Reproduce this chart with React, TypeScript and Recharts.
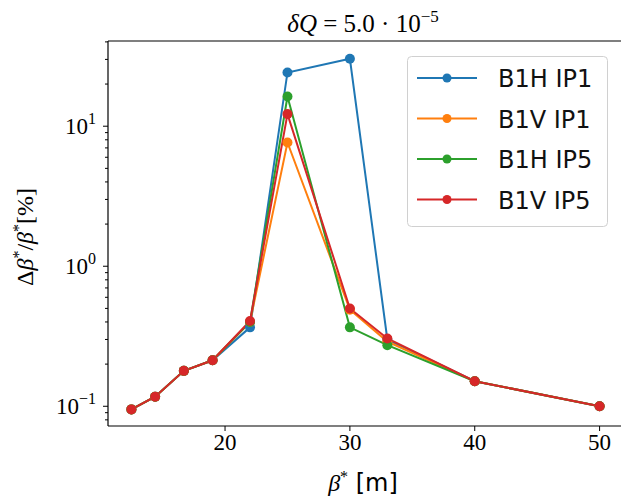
import React from 'react';
import { LineChart, Line, XAxis, YAxis } from 'recharts';

const BETA = [12.5, 14.4, 16.7, 19, 22, 25, 30, 33, 40, 50];
const B1H_IP1 = [0.095, 0.117, 0.179, 0.213, 0.366, 24.2, 30.3, 0.3, 0.151, 0.1];
const B1V_IP1 = [0.095, 0.117, 0.179, 0.213, 0.4, 7.65, 0.49, 0.29, 0.151, 0.1];
const B1H_IP5 = [0.095, 0.117, 0.179, 0.213, 0.4, 16.3, 0.366, 0.273, 0.151, 0.1];
const B1V_IP5 = [0.095, 0.117, 0.179, 0.213, 0.406, 12.2, 0.499, 0.305, 0.151, 0.1];

const SERIES = [
  { key: 'b1hIp1', name: 'B1H IP1', values: B1H_IP1, color: '#1f77b4' },
  { key: 'b1vIp1', name: 'B1V IP1', values: B1V_IP1, color: '#ff7f0e' },
  { key: 'b1hIp5', name: 'B1H IP5', values: B1H_IP5, color: '#2ca02c' },
  { key: 'b1vIp5', name: 'B1V IP5', values: B1V_IP5, color: '#d62728' },
];

const X_TICKS = [20, 30, 40, 50];
const Y_DECADES = [0.01, 0.1, 1, 10];
const Y_MANTISSAS = [1, 2, 3, 4, 5, 6, 7, 8, 9];
const X_DOMAIN = [10.625, 51.875];
const Y_DOMAIN = [0.0723, 40.6];
const DECADE_EXP: Record<string, string> = { '0.1': '−1', '1': '0', '10': '1' };

const data = BETA.map((b, i) => {
  const row: Record<string, number> = { beta: b };
  SERIES.forEach(s => {
    row[s.key] = s.values[i];
  });
  return row;
});

const yTicks = Y_DECADES.flatMap(d => Y_MANTISSAS.map(m => +(d * m).toPrecision(3))).filter(
  v => v >= Y_DOMAIN[0] && v <= Y_DOMAIN[1]
);

const SERIF = '"Liberation Serif", "DejaVu Serif", serif';
const SANS = '"DejaVu Sans", sans-serif';

const YTick = (props: any) => {
  const { x, y, payload } = props;
  const exp = DECADE_EXP[String(payload.value)];
  const major = exp !== undefined;
  return (
    <g>
      <line x1={x} x2={x - (major ? 5 : 3)} y1={y} y2={y} stroke="#000" strokeWidth={1} />
      {major && (
        <text x={x - 12} y={y + 8} textAnchor="end" fontFamily={SERIF} fontSize={23} fill="#000">
          10
          <tspan dy={-10} fontSize={16}>
            {exp}
          </tspan>
        </text>
      )}
    </g>
  );
};

const XTick = (props: any) => {
  const { x, y, payload } = props;
  return (
    <g>
      <line x1={x} x2={x} y1={y} y2={y + 5} stroke="#000" strokeWidth={1} />
      <text x={x} y={y + 24} textAnchor="middle" fontFamily={SERIF} fontSize={23} fill="#000">
        {payload.value}
      </text>
    </g>
  );
};

const LegendBox = () => (
  <g transform="translate(407,56)">
    <rect x={0.5} y={0.5} width={200} height={170} rx={4} fill="#fff" fillOpacity={0.8} stroke="#d0d0d0" />
    {SERIES.map((s, i) => (
      <g key={s.key}>
        <line x1={10} x2={70} y1={22 + i * 40.5} y2={22 + i * 40.5} stroke={s.color} strokeWidth={2} />
        <circle cx={40} cy={22 + i * 40.5} r={4.5} fill={s.color} />
        <text x={91} y={22 + i * 40.5 + 9} fontFamily={SANS} fontSize={24} fill="#111">
          {s.name}
        </text>
      </g>
    ))}
  </g>
);

export default function App() {
  return (
    <div style={{ position: 'absolute', left: 0, top: 0, width: 621, height: 499, overflow: 'hidden', background: '#fff' }}>
      <LineChart width={623} height={499} data={data} margin={{ top: 40, right: 0, bottom: 0, left: 0 }}>
        <XAxis
          dataKey="beta"
          type="number"
          domain={X_DOMAIN}
          ticks={X_TICKS}
          allowDataOverflow
          interval={0}
          height={73}
          tickSize={0}
          tickMargin={0}
          tickLine={false}
          tick={<XTick />}
          axisLine={{ stroke: '#000', strokeWidth: 1.2 }}
        />
        <XAxis
          xAxisId="top"
          orientation="top"
          type="number"
          domain={X_DOMAIN}
          height={1}
          tick={false}
          tickLine={false}
          axisLine={{ stroke: '#000', strokeWidth: 1.2 }}
        />
        <YAxis
          type="number"
          scale="log"
          domain={Y_DOMAIN}
          ticks={yTicks}
          allowDataOverflow
          interval={0}
          width={108}
          tickSize={0}
          tickMargin={0}
          tickLine={false}
          tick={<YTick />}
          axisLine={{ stroke: '#000', strokeWidth: 1.2 }}
        />
        {SERIES.map(s => (
          <Line
            key={s.key}
            dataKey={s.key}
            name={s.name}
            stroke={s.color}
            strokeWidth={2}
            dot={{ r: 5, fill: s.color, stroke: s.color, strokeWidth: 0 }}
            activeDot={false}
            isAnimationActive={false}
          />
        ))}
      </LineChart>
      <svg
        width={621}
        height={499}
        style={{ position: 'absolute', left: 0, top: 0, pointerEvents: 'none' }}
      >
        <LegendBox />
        <text x={363} y={32} textAnchor="middle" fontFamily={SERIF} fontSize={25} fill="#000">
          <tspan fontStyle="italic">δQ</tspan> = 5.0 · 10
          <tspan dy={-10} fontSize={17}>
            −5
          </tspan>
        </text>
        <text
          transform="translate(33,237) rotate(-90)"
          textAnchor="middle"
          fontFamily={SERIF}
          fontSize={24}
          fill="#000"
        >
          Δ<tspan fontStyle="italic">β</tspan>
          <tspan dy={-9} fontSize={16}>*</tspan>
          <tspan dy={9}>/</tspan>
          <tspan fontStyle="italic">β</tspan>
          <tspan dy={-9} fontSize={16}>*</tspan>
          <tspan dy={9}>[%]</tspan>
        </text>
        <text x={363} y={491} textAnchor="middle" fontSize={24} fill="#000">
          <tspan fontFamily={SERIF} fontStyle="italic">β</tspan>
          <tspan fontFamily={SERIF} dy={-9} fontSize={16}>*</tspan>
          <tspan fontFamily={SANS} dy={9}> [m]</tspan>
        </text>
      </svg>
    </div>
  );
}
